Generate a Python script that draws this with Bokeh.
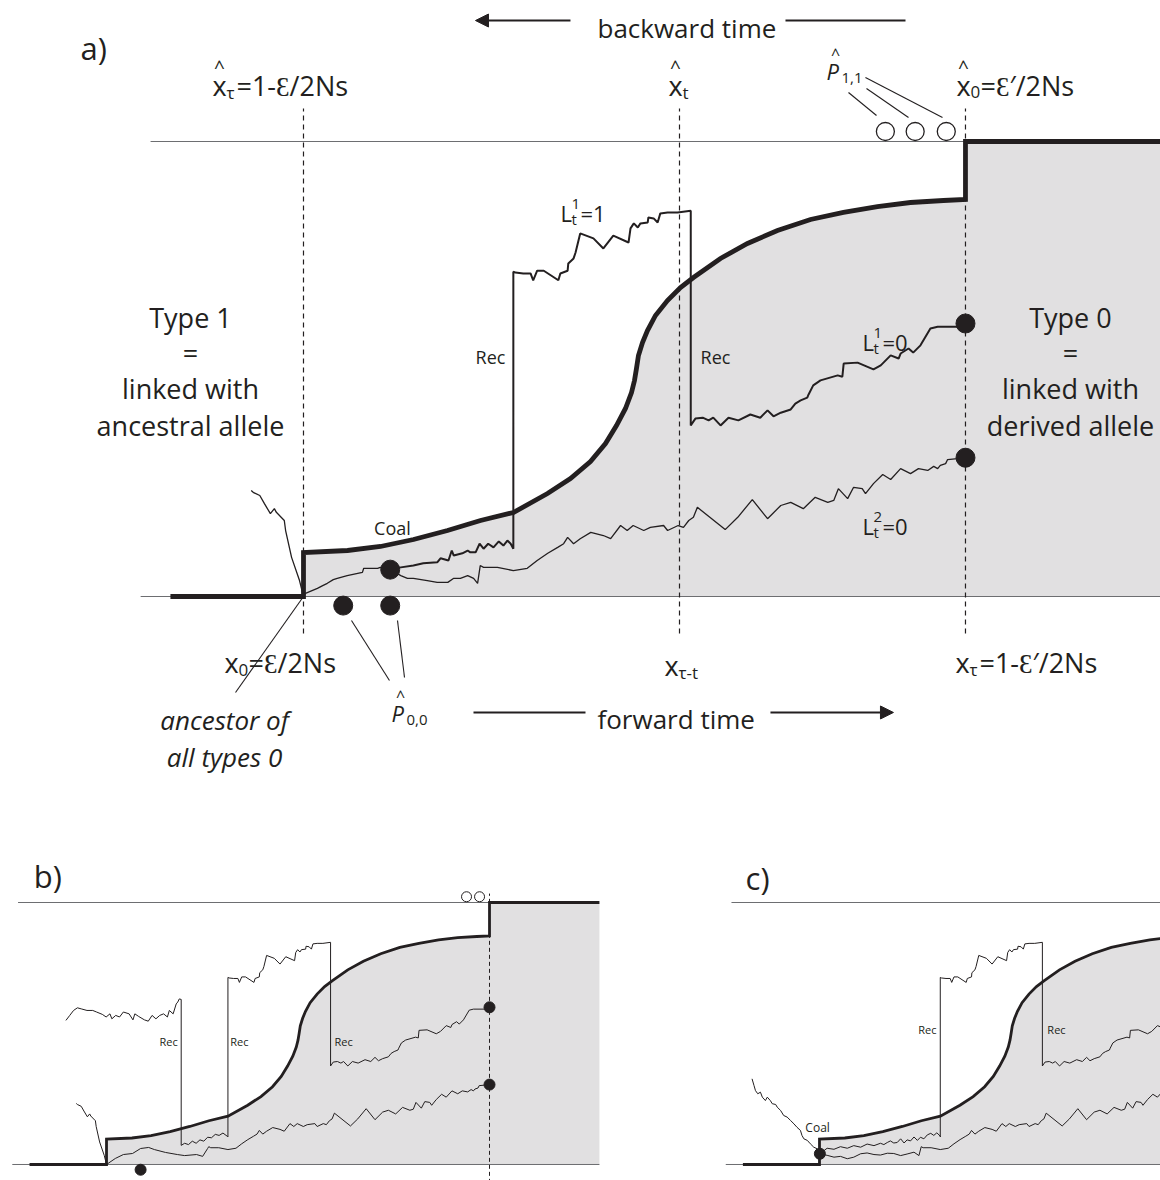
from bokeh.plotting import figure
from bokeh.models import Range1d, Arrow, NormalHead
from bokeh.layouts import column, row
from bokeh.core.properties import value
from bokeh.embed import file_html
from bokeh.resources import INLINE

FONT = "Open Sans"
INK = "#231f20"
RULE = "#6d6e71"
SHADE = "#e1e0e1"

# Sweep trajectory: time as a fraction of tau, derived-allele frequency
curve_t = [0.0, 0.0665, 0.1163, 0.1662, 0.2175, 0.2674, 0.3172, 0.3686, 0.4033, 0.4335,
           0.4562, 0.4728, 0.4864, 0.4955, 0.5000, 0.5030, 0.5060, 0.5121, 0.5196, 0.5317,
           0.5498, 0.5695, 0.5891, 0.6299, 0.6707, 0.7160, 0.7659, 0.8157, 0.8671, 0.9169,
           0.9668, 1.0]
curve_f = [0.0967, 0.1011, 0.1099, 0.1253, 0.1451, 0.1670, 0.1846, 0.2264, 0.2593, 0.2967,
           0.3363, 0.3758, 0.4132, 0.4484, 0.4747, 0.5011, 0.5297, 0.5582, 0.5846, 0.6176,
           0.6505, 0.6791, 0.7011, 0.7429, 0.7758, 0.8044, 0.8286, 0.8440, 0.8571, 0.8659,
           0.8703, 0.8725]

# Lineage 1, from the sampled chromosome back to the second recombination
l1_recent_t = [1.000, 0.989, 0.958, 0.947, 0.932, 0.921, 0.914, 0.902, 0.899, 0.887, 0.872,
               0.861, 0.837, 0.816, 0.814, 0.807, 0.781, 0.770, 0.763, 0.761, 0.751, 0.743,
               0.736, 0.721, 0.710, 0.701, 0.690, 0.675, 0.657, 0.642, 0.630, 0.619, 0.612,
               0.603, 0.592, 0.585]
l1_recent_f = [0.600, 0.593, 0.593, 0.589, 0.552, 0.536, 0.545, 0.534, 0.523, 0.530, 0.508,
               0.499, 0.514, 0.512, 0.483, 0.486, 0.475, 0.464, 0.444, 0.437, 0.431, 0.424,
               0.411, 0.404, 0.396, 0.409, 0.393, 0.400, 0.387, 0.393, 0.376, 0.393, 0.387,
               0.393, 0.391, 0.376]
# Lineage 1 while linked with the ancestral allele (between the two recombinations)
l1_mid_t = [0.585, 0.565, 0.550, 0.539, 0.535, 0.529, 0.521, 0.520, 0.509, 0.505, 0.499,
            0.494, 0.491, 0.468, 0.453, 0.438, 0.418, 0.411, 0.408, 0.400, 0.399, 0.388,
            0.385, 0.363, 0.353, 0.347, 0.343, 0.332, 0.320, 0.317]
l1_mid_f = [0.848, 0.844, 0.844, 0.842, 0.822, 0.831, 0.833, 0.822, 0.820, 0.811, 0.820,
            0.809, 0.778, 0.793, 0.765, 0.787, 0.798, 0.756, 0.743, 0.732, 0.716, 0.710,
            0.695, 0.716, 0.716, 0.695, 0.710, 0.710, 0.712, 0.714]
rec_late_t = 0.585
rec_early_t = 0.317
rec_early_low = 0.105

# Lineage 2, from the sampled chromosome back to the early sweep
l2_recent_t = [1.000, 0.988, 0.973, 0.970, 0.962, 0.958, 0.952, 0.943, 0.929, 0.917, 0.902,
               0.887, 0.875, 0.861, 0.849, 0.844, 0.831, 0.822, 0.808, 0.801, 0.792, 0.773,
               0.755, 0.736, 0.721, 0.701, 0.678, 0.656, 0.637, 0.595, 0.589, 0.582, 0.574,
               0.566, 0.550, 0.544, 0.524, 0.514, 0.498, 0.489, 0.479, 0.464, 0.453, 0.434,
               0.418, 0.408, 0.399, 0.393, 0.384, 0.369, 0.353, 0.338, 0.317, 0.293, 0.272,
               0.267]
l2_recent_f = [0.305, 0.303, 0.301, 0.292, 0.288, 0.281, 0.286, 0.277, 0.281, 0.270, 0.281,
               0.257, 0.268, 0.248, 0.226, 0.237, 0.240, 0.215, 0.237, 0.211, 0.207, 0.218,
               0.193, 0.207, 0.200, 0.171, 0.213, 0.174, 0.147, 0.196, 0.174, 0.167, 0.152,
               0.156, 0.145, 0.156, 0.152, 0.145, 0.156, 0.145, 0.156, 0.127, 0.134, 0.141,
               0.127, 0.116, 0.130, 0.116, 0.108, 0.095, 0.079, 0.062, 0.057, 0.064, 0.064,
               0.068]

# Ancestral lineage before the derived mutation arose
anc_t = [0.0, -0.006, -0.018, -0.027, -0.029, -0.041, -0.044, -0.050, -0.059, -0.066, -0.076, -0.079]
anc_f = [0.0, 0.035, 0.086, 0.145, 0.167, 0.185, 0.193, 0.182, 0.204, 0.222, 0.229, 0.233]

# Panel a: both lineages coalesce early in the sweep
a_l1_old_t = [0.317, 0.313, 0.308, 0.302, 0.295, 0.287, 0.279, 0.272, 0.266, 0.260, 0.252,
              0.248, 0.240, 0.227, 0.224, 0.219, 0.207, 0.202, 0.181, 0.166, 0.147, 0.131]
a_l1_old_f = [0.105, 0.116, 0.123, 0.112, 0.121, 0.108, 0.116, 0.105, 0.116, 0.097, 0.097,
              0.101, 0.095, 0.090, 0.101, 0.079, 0.084, 0.075, 0.073, 0.068, 0.064, 0.059]
a_l2_old_t = [0.263, 0.257, 0.248, 0.237, 0.227, 0.218, 0.202, 0.187, 0.166, 0.157, 0.147, 0.136, 0.131]
a_l2_old_f = [0.029, 0.040, 0.046, 0.040, 0.040, 0.031, 0.031, 0.035, 0.040, 0.040, 0.046, 0.055, 0.059]
a_root_t = [0.131, 0.116, 0.112, 0.091, 0.089, 0.066, 0.051, 0.045, 0.036, 0.029, 0.021, 0.003, 0.0]
a_root_f = [0.059, 0.064, 0.062, 0.062, 0.053, 0.046, 0.040, 0.037, 0.029, 0.024, 0.018, 0.007, 0.0]
a_coal = (0.131, 0.059)
a_p00_t = [0.060, 0.131]
p00_f = -0.020
a_p11_t = [0.879, 0.924, 0.971]
p11_f = 1.022
sample_f = [0.600, 0.305]

# Panel b: lineage 1 recombines a third time and escapes
b_l1_low_t = [0.316, 0.304, 0.294, 0.284, 0.274, 0.264, 0.254, 0.244, 0.234, 0.224, 0.214, 0.204, 0.195]
b_l1_low_f = [0.107, 0.120, 0.111, 0.115, 0.102, 0.104, 0.089, 0.094, 0.081, 0.089, 0.076, 0.081, 0.073]
b_rec_top = 0.630
b_l1_far_t = [0.195, 0.190, 0.186, 0.182, 0.174, 0.164, 0.159, 0.149, 0.139, 0.129, 0.119,
              0.109, 0.099, 0.084, 0.074, 0.069, 0.059, 0.044, 0.034, 0.024, 0.014, 0.009,
              -0.001, -0.011, -0.026, -0.036, -0.051, -0.066, -0.076, -0.086, -0.096, -0.106]
b_l1_far_f = [0.630, 0.632, 0.620, 0.613, 0.575, 0.588, 0.563, 0.575, 0.569, 0.556, 0.569,
              0.547, 0.552, 0.565, 0.575, 0.552, 0.575, 0.582, 0.563, 0.569, 0.556, 0.575,
              0.563, 0.573, 0.582, 0.588, 0.588, 0.594, 0.598, 0.588, 0.569, 0.550]
b_l2_old_t = [0.264, 0.251, 0.235, 0.204, 0.185, 0.154, 0.125, 0.110, 0.089, 0.068, 0.044, 0.023, 0.0]
b_l2_old_f = [0.061, 0.031, 0.038, 0.034, 0.038, 0.046, 0.057, 0.065, 0.061, 0.042, 0.038, 0.023, 0.0]
b_p00_t = [0.089]
b_p11_t = [0.940, 0.974]

# Panel c: coalescence right at the origin of the sweep
c_l1_old_t = [0.317, 0.308, 0.300, 0.292, 0.283, 0.274, 0.265, 0.257, 0.248, 0.239, 0.230,
              0.222, 0.213, 0.204, 0.195, 0.186, 0.178, 0.169, 0.160, 0.143, 0.125, 0.108,
              0.090, 0.073, 0.055, 0.038, 0.020, 0.001]
c_l1_old_f = [0.108, 0.121, 0.111, 0.119, 0.113, 0.098, 0.104, 0.092, 0.105, 0.090, 0.094,
              0.082, 0.098, 0.084, 0.082, 0.090, 0.084, 0.076, 0.081, 0.072, 0.078, 0.066,
              0.072, 0.062, 0.068, 0.058, 0.062, 0.041]
c_l2_old_t = [0.261, 0.248, 0.230, 0.213, 0.195, 0.178, 0.160, 0.143, 0.125, 0.108, 0.090,
              0.073, 0.055, 0.038, 0.020, 0.001]
c_l2_old_f = [0.034, 0.047, 0.040, 0.034, 0.042, 0.043, 0.036, 0.038, 0.044, 0.041, 0.028,
              0.022, 0.031, 0.028, 0.035, 0.041]
c_anc_t = [-0.177, -0.172, -0.168, -0.162, -0.155, -0.150, -0.142, -0.137, -0.129, -0.124,
           -0.115, -0.111, -0.102, -0.094, -0.085, -0.076, -0.067, -0.059, -0.050, -0.046,
           -0.041, -0.032, -0.024, -0.015, -0.006, 0.001]
c_anc_f = [0.327, 0.302, 0.282, 0.270, 0.276, 0.257, 0.244, 0.257, 0.244, 0.232, 0.229,
           0.219, 0.206, 0.187, 0.181, 0.168, 0.155, 0.142, 0.130, 0.111, 0.098, 0.092,
           0.079, 0.066, 0.060, 0.041]
c_coal = (0.001, 0.041)


def l1_common():
    """Lineage 1 from the sample back to the first recombination."""
    t = l1_recent_t + [rec_late_t] + l1_mid_t + [rec_early_t]
    f = l1_recent_f + [l1_mid_f[0]] + l1_mid_f + [rec_early_low]
    return t, f


def make_fig(w, h, xr, yr):
    p = figure(width=w, height=h, x_range=Range1d(*xr), y_range=Range1d(*yr),
               output_backend="svg", toolbar_location=None, min_border=0,
               x_axis_location=None, y_axis_location=None, outline_line_color=None)
    p.grid.visible = False
    p.background_fill_color = "white"
    p.border_fill_color = "white"
    return p


def draw_sweep(p, thick, thin, right):
    xs = [0.0] + curve_t + [1.0, right, right]
    ys = [0.0] + curve_f + [1.0, 1.0, 0.0]
    p.patch(xs, ys, fill_color=SHADE, line_color=None)
    p.line([-0.246, right], [0.0, 0.0], line_color=RULE, line_width=thin)
    p.line([-0.231, 1.0], [1.0, 1.0], line_color=RULE, line_width=thin)
    p.line([-0.201, 0.0] + curve_t + [1.0, right], [0.0, 0.0] + curve_f + [1.0, 1.0],
           line_color=INK, line_width=thick, line_join="miter")


def put(p, x, y, s, size, dx=0, dy=0, align="left", style="normal", baseline="alphabetic"):
    p.text(x=[x], y=[y], text=[s], text_font=value(FONT), text_font_size=f"{size}px",
           text_align=align, text_baseline=baseline, text_font_style=style,
           x_offset=dx, y_offset=dy, text_color=INK)


def xlabel(p, x, y, sub, tail, hat):
    put(p, x, y, "x", 27)
    if hat:
        put(p, x, y, "^", 19, dx=7, dy=-18, align="center")
    put(p, x, y, sub, 17, dx=14, dy=7)
    if tail:
        put(p, x, y, tail, 27, dx=24 if len(sub) == 1 else 35)


def plabel(p, x, y, sub):
    put(p, x, y, "P", 22, style="italic")
    put(p, x, y, "^", 16, dx=9, dy=-17, align="center")
    put(p, x, y, sub, 15, dx=15, dy=7)


def llabel(p, x, y, sup, tail):
    put(p, x, y, "L", 22)
    put(p, x, y, sup, 15, dx=11, dy=-9)
    put(p, x, y, "t", 15, dx=11, dy=6)
    put(p, x, y, tail, 22, dx=20)


# ---------------- panel a ----------------
pa = make_fig(1160, 790, (-0.4577, 1.2946), (-0.4264, 1.3099))
draw_sweep(pa, 4.8, 1.2, 1.30)
for xv in (0.0, 0.568, 1.0):
    pa.line([xv, xv], [-0.0813, 1.0725], line_color=INK, line_width=1.2, line_dash="5 4")

t, f = l1_common()
pa.line(t + a_l1_old_t, f + a_l1_old_f, line_color=INK, line_width=2.0)
pa.line(l2_recent_t + a_l2_old_t, l2_recent_f + a_l2_old_f, line_color=INK, line_width=1.3)
pa.line(a_root_t, a_root_f, line_color=INK, line_width=1.3)
pa.line(anc_t, anc_f, line_color=INK, line_width=1.3)

pa.scatter([1.0, 1.0], sample_f, size=19, color=INK)
pa.scatter([a_coal[0]], [a_coal[1]], size=19, color=INK)
pa.scatter(a_p00_t, [p00_f] * len(a_p00_t), size=19, color=INK)
pa.scatter(a_p11_t, [p11_f] * len(a_p11_t), size=18, fill_color="white",
           line_color=INK, line_width=1.3)

# pointer lines
pa.segment(x0=[0.0, 0.0725, 0.1420, 0.8233, 0.8505, 0.8489],
           y0=[0.0, -0.0527, -0.0527, 1.1077, 1.1165, 1.1407],
           x1=[-0.1027, 0.1299, 0.1526, 0.8656, 0.9139, 0.9653],
           y1=[-0.2110, -0.1846, -0.1780, 1.0571, 1.0527, 1.0527],
           line_color=INK, line_width=1.1)

# time arrows
pa.add_layout(Arrow(end=NormalHead(size=13, fill_color=INK, line_color=INK),
                    x_start=0.4033, y_start=1.2659, x_end=0.2598, y_end=1.2659,
                    line_color=INK, line_width=2))
pa.line([0.7281, 0.9094], [1.2659, 1.2659], line_color=INK, line_width=2)
pa.line([0.2568, 0.4260], [-0.2549, -0.2549], line_color=INK, line_width=2)
pa.add_layout(Arrow(end=NormalHead(size=13, fill_color=INK, line_color=INK),
                    x_start=0.7054, y_start=-0.2549, x_end=0.8912, y_end=-0.2549,
                    line_color=INK, line_width=2))

put(pa, -0.3369, 1.2066, "a)", 31)
put(pa, 0.4441, 1.2505, "backward time", 26)
put(pa, 0.4441, -0.2703, "forward time", 26)

xlabel(pa, -0.1375, 1.1231, "τ", "=1-Ɛ/2Ns", True)
xlabel(pa, 0.5514, 1.1231, "t", "", True)
xlabel(pa, 0.9864, 1.1231, "0", "=Ɛ′/2Ns", True)
xlabel(pa, -0.1193, -0.1451, "0", "=Ɛ/2Ns", False)
xlabel(pa, 0.5453, -0.1516, "τ-t", "", False)
xlabel(pa, 0.9849, -0.1451, "τ", "=1-Ɛ′/2Ns", False)
plabel(pa, 0.7900, 1.1560, "1,1")
plabel(pa, 0.1329, -0.2571, "0,0")

put(pa, -0.1193, -0.2725, "ancestor of", 26, align="center", style="italic")
put(pa, -0.1193, -0.3538, "all types 0", 26, align="center", style="italic")

for xc, lines in ((-0.1707, ["Type 1", "=", "linked with", "ancestral allele"]),
                  (1.1586, ["Type 0", "=", "linked with", "derived allele"])):
    for yy, s in zip([0.6132, 0.5363, 0.4571, 0.3758], lines):
        put(pa, xc, yy, s, 27, align="center")

put(pa, 0.1344, 0.1495, "Coal", 18, align="center")
put(pa, 0.2825, 0.5253, "Rec", 18, align="center")
put(pa, 0.6224, 0.5253, "Rec", 18, align="center")
llabel(pa, 0.3882, 0.8418, "1", "=1")
llabel(pa, 0.8444, 0.5604, "1", "=0")
llabel(pa, 0.8444, 0.1560, "2", "=0")

# ---------------- panel b ----------------
pb = make_fig(700, 390, (-0.2768, 1.5509), (-0.0611, 1.4275))
draw_sweep(pb, 2.8, 1.0, 1.287)
pb.line([1.0, 1.0], [-0.07, 1.034], line_color=INK, line_width=1.0, line_dash="4 3")
t, f = l1_common()
pb.line(t + b_l1_low_t + [b_l1_low_t[-1]] + b_l1_far_t,
        f + b_l1_low_f + [b_rec_top] + b_l1_far_f, line_color=INK, line_width=1.0)
pb.line(l2_recent_t + b_l2_old_t, l2_recent_f + b_l2_old_f, line_color=INK, line_width=1.0)
pb.line(anc_t, anc_f, line_color=INK, line_width=1.0)
pb.scatter([1.0, 1.0], sample_f, size=11, color=INK)
pb.scatter(b_p00_t, [p00_f], size=11, color=INK)
pb.scatter(b_p11_t, [p11_f] * len(b_p11_t), size=10, fill_color="white",
           line_color=INK, line_width=1.0)
put(pb, -0.190, 1.103, "b)", 31)
for xr in (0.162, 0.347, 0.619):
    put(pb, xr, 0.470, "Rec", 11, align="center")

# ---------------- panel c ----------------
pc = make_fig(460, 390, (-0.3123, 0.8950), (-0.0611, 1.4275))
draw_sweep(pc, 2.8, 1.0, 1.30)
t, f = l1_common()
pc.line(t + c_l1_old_t, f + c_l1_old_f, line_color=INK, line_width=1.0)
pc.line(l2_recent_t + c_l2_old_t, l2_recent_f + c_l2_old_f, line_color=INK, line_width=1.0)
pc.line(c_anc_t, c_anc_f, line_color=INK, line_width=1.0)
pc.scatter([c_coal[0]], [c_coal[1]], size=11, color=INK)
put(pc, -0.194, 1.095, "c)", 31)
put(pc, 0.283, 0.516, "Rec", 11, align="center")
put(pc, 0.622, 0.516, "Rec", 11, align="center")
put(pc, -0.005, 0.140, "Coal", 12, align="center")

layout = column(pa, row(pb, pc))
open("out.html", "w").write(file_html(layout, INLINE))
